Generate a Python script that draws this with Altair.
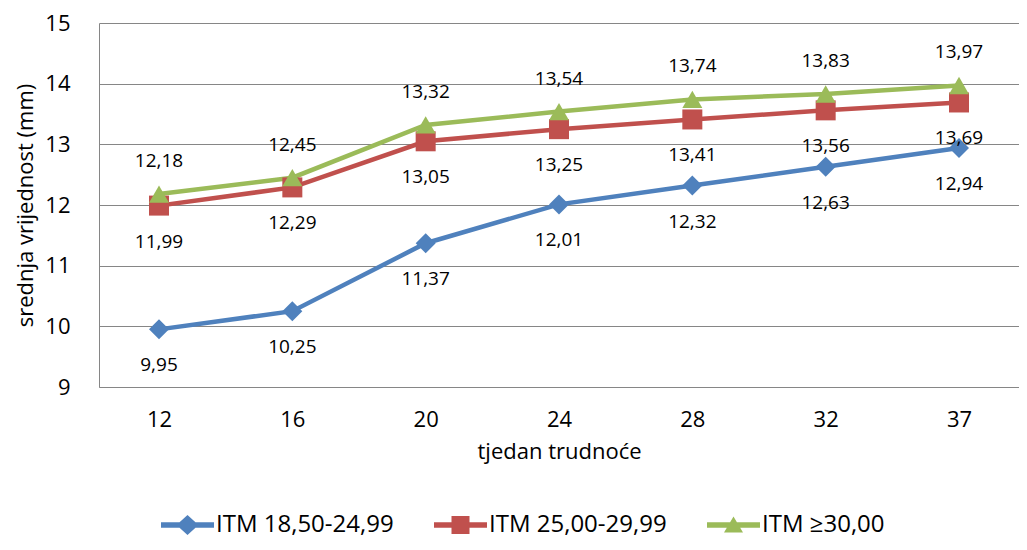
import altair as alt
import pandas as pd

weeks = ["12", "16", "20", "24", "28", "32", "37"]
series_names = ["ITM 18,50-24,99", "ITM 25,00-29,99", "ITM ≥30,00"]
itm_normal = [9.95, 10.25, 11.37, 12.01, 12.32, 12.63, 12.94]
itm_over = [11.99, 12.29, 13.05, 13.25, 13.41, 13.56, 13.69]
itm_obese = [12.18, 12.45, 13.32, 13.54, 13.74, 13.83, 13.97]
colors = ["#4F81BD", "#C0504D", "#9BBB59"]
shapes = ["diamond", "square", "triangle-up"]

# legend symbols: line with marker (custom SVG paths)
legend_shapes = [
    "M-1,-0.27L4.3,-0.27L4.3,0.27L-1,0.27Z M1.65,-1L2.75,0L1.65,1L0.55,0Z",
    "M-1,-0.27L4.3,-0.27L4.3,0.27L-1,0.27Z M0.75,-0.9L2.55,-0.9L2.55,0.9L0.75,0.9Z",
    "M-1,-0.27L4.3,-0.27L4.3,0.27L-1,0.27Z M1.65,-0.85L2.6,0.75L0.7,0.75Z",
]

rows = []
for s_i, (name, vals) in enumerate(zip(series_names, [itm_normal, itm_over, itm_obese])):
    for w, v in zip(weeks, vals):
        rows.append({"week": w, "value": v, "series": name, "order": s_i,
                     "label": f"{v:.2f}".replace(".", ",")})
df = pd.DataFrame(rows)

FONT = "Open Sans"
GRID = "#868686"

x_enc = alt.X("week:O", sort=weeks,
              scale=alt.Scale(type="point", padding=0.45),
              axis=alt.Axis(title="tjedan trudnoće", labelAngle=0, ticks=False,
                            labelPadding=22, titlePadding=11, domainColor=GRID,
                            labelFontSize=22, titleFontSize=22, grid=False,
                            labelFont=FONT, titleFont=FONT, titleFontWeight="normal",
                            labelColor="#000000", titleColor="#000000"))
y_enc = alt.Y("value:Q",
              scale=alt.Scale(domain=[9, 15], nice=False, zero=False),
              axis=alt.Axis(title="srednja vrijednost (mm)", values=[9, 10, 11, 12, 13, 14, 15],
                            ticks=False, labelPadding=29, titlePadding=7,
                            gridColor=GRID, domainColor=GRID, labelFontSize=22,
                            titleFontSize=22, labelFont=FONT, titleFont=FONT,
                            titleFontWeight="normal", labelColor="#000000",
                            titleColor="#000000"))
color_main = alt.Color("series:N", scale=alt.Scale(domain=series_names, range=colors), legend=None)

base = alt.Chart(df)

lines = base.mark_line(strokeWidth=4.5).encode(
    x=x_enc, y=y_enc, color=color_main, detail="series:N")

points = base.mark_point(filled=True, opacity=1, size=400).encode(
    x=x_enc, y=y_enc, color=color_main,
    shape=alt.Shape("series:N", scale=alt.Scale(domain=series_names, range=shapes), legend=None))

labels_above = base.transform_filter(alt.datum.order == 2).mark_text(
    dy=-33, fontSize=19, font=FONT, color="#000000").encode(
    x=x_enc, y=y_enc, text="label:N")

labels_below = base.transform_filter(alt.datum.order < 2).mark_text(
    dy=36, fontSize=19, font=FONT, color="#000000").encode(
    x=x_enc, y=y_enc, text="label:N")

leg = alt.Legend(title=None, orient="none", legendX=60, legendY=490, direction="horizontal",
                 labelFontSize=24, labelFont=FONT, labelColor="#000000", labelLimit=500,
                 symbolSize=400, labelOffset=33, columnPadding=38, symbolStrokeWidth=0)

legend_layer = base.transform_filter(alt.datum.order > 5).mark_point(filled=True, opacity=1).encode(
    x=x_enc, y=y_enc,
    color=alt.Color("series:N", scale=alt.Scale(domain=series_names, range=colors), legend=leg),
    shape=alt.Shape("series:N", scale=alt.Scale(domain=series_names, range=legend_shapes), legend=leg),
)

chart = alt.layer(lines, points, labels_above, labels_below, legend_layer).resolve_scale(
    color="independent", shape="independent"
).properties(
    width=920, height=364,
    background="white",
    padding={"left": 6, "top": 4, "right": 0, "bottom": 0},
).configure_view(stroke=None)

chart.save("out.html", embed_options={"renderer": "svg", "actions": False})
